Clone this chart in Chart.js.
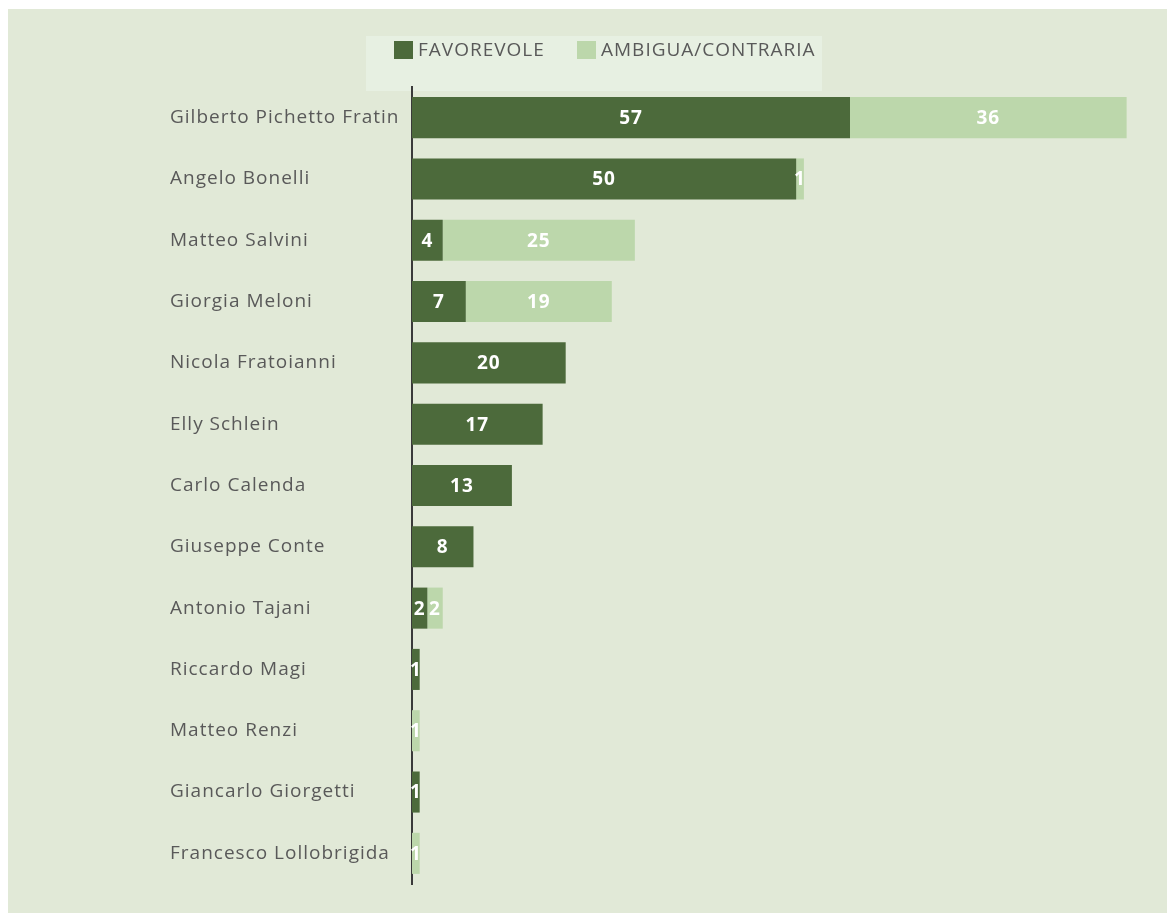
<!DOCTYPE html>
<html>
<head>
<meta charset="utf-8">
<script src="https://cdn.jsdelivr.net/npm/chart.js@4"></script>
<style>
  html, body { margin: 0; padding: 0; background: #ffffff; }
  #wrap {
    position: absolute; left: 8px; top: 9px;
    width: 1159px; height: 904px;
    background: rgb(225, 233, 215);
  }
</style>
</head>
<body>
<div id="wrap"><canvas id="myChart" width="1159" height="904"></canvas></div>
<script>
const names = [
  'Gilberto Pichetto Fratin', 'Angelo Bonelli', 'Matteo Salvini', 'Giorgia Meloni',
  'Nicola Fratoianni', 'Elly Schlein', 'Carlo Calenda', 'Giuseppe Conte',
  'Antonio Tajani', 'Riccardo Magi', 'Matteo Renzi', 'Giancarlo Giorgetti',
  'Francesco Lollobrigida'
];
const favorevole = [57, 50, 4, 7, 20, 17, 13, 8, 2, 1, 0, 1, 0];
const ambigua = [36, 1, 25, 19, 0, 0, 0, 0, 2, 0, 1, 0, 1];
const seriesNames = ['FAVOREVOLE', 'AMBIGUA/CONTRARIA'];

const DARK = '#4c6a3b';
const LIGHT = '#bcd7ab';
const FONT = '"Open Sans", "Noto Sans", sans-serif';

// canvas letter spacing (lost on resize, so set it again before each pass)
const spacing = {
    id: 'spacing',
    beforeUpdate(chart) { chart.ctx.letterSpacing = '1px'; },
    beforeDraw(chart) { chart.ctx.letterSpacing = '1px'; }
};

// legend drawn by hand so the box can sit where it does in the original
const legendBox = {
    id: 'legendBox',
    beforeDraw(chart) {
        const ctx = chart.ctx;
        ctx.save();
        ctx.letterSpacing = '1px';
        ctx.fillStyle = 'rgb(231, 240, 226)';
        ctx.fillRect(358, 27, 456, 55);
        ctx.font = '19px ' + FONT;
        ctx.textBaseline = 'middle';
        ctx.textAlign = 'left';
        const xs = [386, 569];
        chart.data.datasets.forEach((ds, i) => {
            ctx.fillStyle = ds.backgroundColor;
            ctx.fillRect(xs[i], 32, 19, 18);
            ctx.fillStyle = '#595959';
            ctx.fillText(ds.label, xs[i] + 24, 42);
        });
        ctx.restore();
    }
};

// white values in the middle of each segment
const barValues = {
    id: 'barValues',
    afterDatasetsDraw(chart) {
        const ctx = chart.ctx;
        ctx.save();
        ctx.letterSpacing = '1px';
        ctx.font = 'bold 19px ' + FONT;
        ctx.fillStyle = '#ffffff';
        ctx.textAlign = 'center';
        ctx.textBaseline = 'middle';
        chart.data.datasets.forEach((ds, i) => {
            chart.getDatasetMeta(i).data.forEach((bar, j) => {
                const v = ds.data[j];
                if (!v) return;
                ctx.fillText(String(v), (bar.x + bar.base) / 2, bar.y + 1);
            });
        });
        ctx.restore();
    }
};

const ctx = document.getElementById('myChart');
const myChart = new Chart(ctx, {
    type: 'bar',
    data: {
        labels: names,
        datasets: [{
            label: seriesNames[0],
            data: favorevole,
            backgroundColor: DARK,
            barPercentage: 1,
            categoryPercentage: 0.67
        }, {
            label: seriesNames[1],
            data: ambigua,
            backgroundColor: LIGHT,
            barPercentage: 1,
            categoryPercentage: 0.67
        }]
    },
    options: {
        indexAxis: 'y',
        responsive: false,
        animation: false,
        layout: {
            padding: { left: 162, right: 25, top: 78, bottom: 29 }
        },
        scales: {
            x: {
                stacked: true,
                min: 0,
                max: 95,
                display: false
            },
            y: {
                stacked: true,
                grid: { display: false },
                border: { display: true, color: '#3a3a3a', width: 2 },
                ticks: {
                    autoSkip: false,
                    crossAlign: 'far',
                    color: '#595959',
                    font: { family: FONT, size: 19 }
                },
                afterFit(scale) { scale.width = 242; }
            }
        },
        plugins: {
            legend: { display: false },
            tooltip: { enabled: false }
        }
    },
    plugins: [spacing, legendBox, barValues]
});
</script>
</body>
</html>
